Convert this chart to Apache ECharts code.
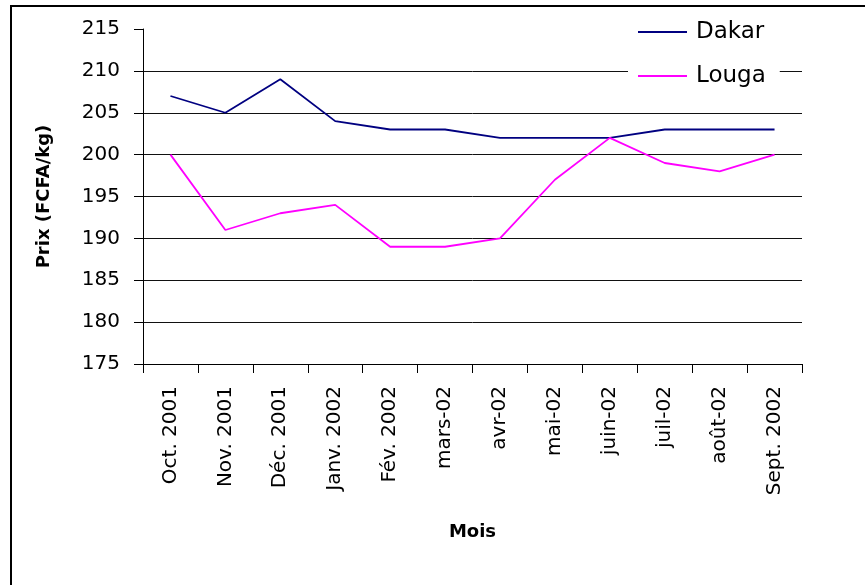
<!DOCTYPE html>
<html>
<head>
<meta charset="utf-8">
<script src="https://cdn.jsdelivr.net/npm/echarts@6/dist/echarts.min.js"></script>
<style>
  html, body { margin: 0; padding: 0; background: #fff; }
  #chart { width: 865px; height: 585px; }
</style>
</head>
<body>
<div id="chart"></div>
<script>
// Monthly prices, Oct. 2001 – Sept. 2002
const months = ['Oct. 2001', 'Nov. 2001', 'Déc. 2001', 'Janv. 2002', 'Fév. 2002', 'mars-02',
                'avr-02', 'mai-02', 'juin-02', 'juil-02', 'août-02', 'Sept. 2002'];
const dakar = [207, 205, 209, 204, 203, 203, 202, 202, 202, 203, 203, 203];
const louga = [200, 191, 193, 194, 189, 189, 190, 197, 202, 199, 198, 200];
const seriesNames = ['Dakar', 'Louga'];
const yTicks = { min: 175, max: 215, step: 5 };

const font = 'DejaVu Sans';
const chart = echarts.init(document.getElementById('chart'), null, { renderer: 'canvas' });

chart.setOption({
  animation: false,
  backgroundColor: '#fff',
  grid: { left: 143, right: 63, top: 29, bottom: 221, containLabel: false },
  graphic: [{
    type: 'rect',
    shape: { x: 11, y: 6, width: 1000, height: 800 },
    style: { fill: 'none', stroke: '#000', lineWidth: 2 },
    silent: true, z: 0
  }],
  legend: {
    orient: 'vertical',
    left: 628,
    top: 10,
    padding: [10, 14, 10, 10],
    backgroundColor: '#fff',
    itemWidth: 49,
    itemHeight: 2,
    itemGap: 20,
    icon: 'rect',
    data: seriesNames,
    textStyle: { fontFamily: font, fontSize: 23, color: '#000', lineHeight: 24, padding: [0, 0, 0, 4] }
  },
  xAxis: {
    type: 'category',
    data: months,
    boundaryGap: true,
    name: 'Mois',
    nameLocation: 'middle',
    nameGap: 159,
    nameTextStyle: { fontFamily: font, fontSize: 18, fontWeight: 'bold', color: '#000' },
    axisLine: { lineStyle: { color: '#000', width: 1 } },
    axisTick: { show: true, length: 9, alignWithLabel: false, lineStyle: { color: '#000' } },
    axisLabel: { rotate: 90, margin: 22, interval: 0, fontFamily: font, fontSize: 20, color: '#000' },
    splitLine: { show: false }
  },
  yAxis: {
    type: 'value',
    min: yTicks.min,
    max: yTicks.max,
    interval: yTicks.step,
    name: 'Prix (FCFA/kg)',
    nameLocation: 'middle',
    nameRotate: 90,
    nameGap: 90,
    nameTextStyle: { fontFamily: font, fontSize: 18, fontWeight: 'bold', color: '#000' },
    axisLine: { show: true, lineStyle: { color: '#000', width: 1 } },
    axisTick: { show: true, length: 9, lineStyle: { color: '#000' } },
    axisLabel: { margin: 23, fontFamily: font, fontSize: 20, color: '#000' },
    splitLine: { show: true, showMaxLine: false, lineStyle: { color: '#111', width: 1 } }
  },
  series: [
    {
      name: seriesNames[0],
      type: 'line',
      data: dakar,
      symbol: 'none',
      lineStyle: { color: '#000080', width: 1.8 },
      itemStyle: { color: '#000080' }
    },
    {
      name: seriesNames[1],
      type: 'line',
      data: louga,
      symbol: 'none',
      lineStyle: { color: '#FF00FF', width: 1.8 },
      itemStyle: { color: '#FF00FF' }
    }
  ]
});
</script>
</body>
</html>
